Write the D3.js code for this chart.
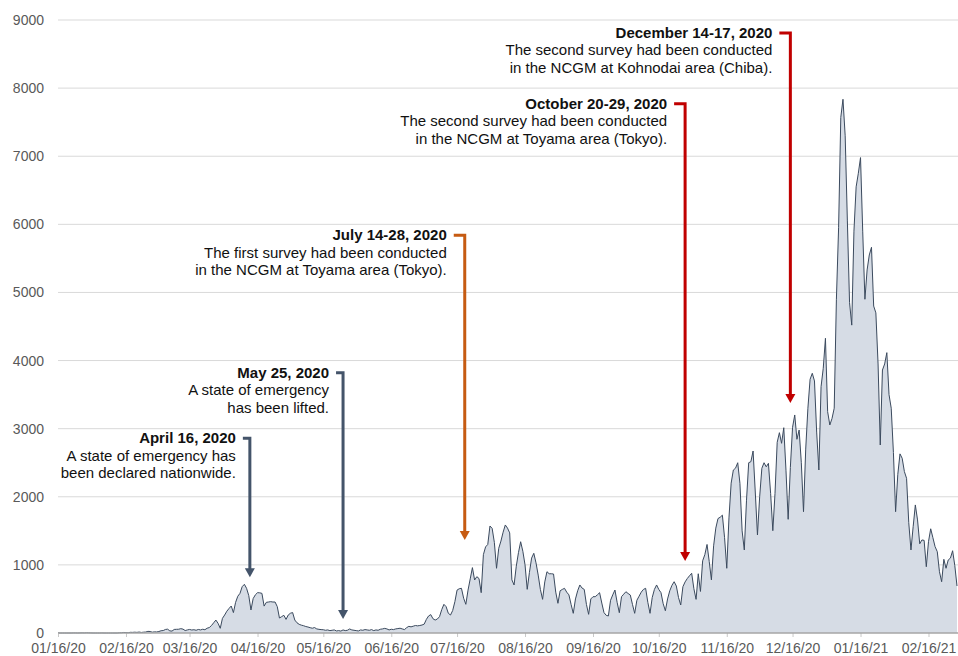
<!DOCTYPE html>
<html>
<head>
<meta charset="utf-8">
<script src="https://cdn.jsdelivr.net/npm/d3@7"></script>
<style>
  body { margin: 0; background: #fff; }
  svg { font-family: "Liberation Sans", Arial, sans-serif; display: block; }
</style>
</head>
<body>
<svg id="chart"></svg>
<script>
// daily new cases, one array per month, first value = 01/16/2020
let jan20 = [1,0,0,0,0,0,0,1,1,0,1,2,1,3,2,1]
let feb20 = [0,0,0,0,1,0,0,0,0,0,0,0,3,4,8,6,4,10,9,12,9,14,8,12,14,24,22,12,17]
let mar20 = [15,22,33,36,52,56,31,28,52,54,55,64,57,36,45,52,44,48,40,52,45,55,48,70,80,110,150,190,142,69,215]
let apr20 = [264,320,360,396,300,450,540,582,680,715,656,550,338,505,560,592,590,582,395,450,455,460,455,455,387,220,240,260,200,264]
let may20 = [290,300,190,150,127,115,107,95,88,78,70,80,60,54,50,48,40,45,35,40,45,30,35,28,45,35,40,59,45,40,35]
let jun20 = [30,45,40,50,45,40,50,35,45,40,55,60,68,60,45,55,50,60,65,70,60,50,78,98,90,100,110,105,110,117]
let jul20 = [130,200,250,270,210,190,205,240,343,421,387,290,264,330,460,630,650,656,510,421,630,795,960,778,827,800,592,1150,1264,1300,1571]
let aug20 = [1536,1330,950,1243,1350,1480,1586,1540,1470,780,705,980,1180,1340,1200,1000,641,890,1100,1170,1030,850,640,494,750,900,870,870,866,600,436]
let sep20 = [620,640,656,600,560,420,289,500,620,705,660,640,420,274,500,533,533,560,592,440,300,260,250,480,560,631,450,298,533,570]
let oct20 = [606,580,558,420,289,480,540,600,640,656,450,289,520,640,705,640,592,430,327,500,620,700,753,690,520,411,680,750,800,840,877]
let nov20 = [650,494,870,610,1060,1150,1300,1050,780,1280,1540,1680,1700,1730,1400,950,1690,2200,2393,2420,2500,2198,1500,1219,1950,2500,2515,2672,2070,1439]
let dec20 = [2000,2418,2500,2440,2491,2050,1502,2050,2800,2941,2785,3014,2390,1669,2430,3020,3201,2844,2980,2500,1781,2700,3300,3725,3813,3700,2950,2393,3616,3886,4327]
let jan21 = [3250,3054,3150,3300,4900,5950,7570,7836,7300,6050,4850,4520,5900,6550,6750,6980,5900,4900,5330,5550,5663,4800,4700,3950,2760,3861,3950,4116,3500,3300,2650]
let feb21 = [1781,2330,2630,2565,2370,2271,1620,1219,1560,1880,1660,1310,1366,1360,973,1341,1530,1400,1268,1194,900,753,1082,950,1072,1100,1208,990]
let mar21 = [690]

let yTicks = [0,1000,2000,3000,4000,5000,6000,7000,8000,9000]
let xTickDates = ["2020-01-16","2020-02-16","2020-03-16","2020-04-16","2020-05-16","2020-06-16",
    "2020-07-16","2020-08-16","2020-09-16","2020-10-16","2020-11-16","2020-12-16","2021-01-16","2021-02-16"]

// labelValue / tipValue are in case units (where the label sits, where the arrow stops)
let annotations = [
    {kind: "emergency", title: "April 16, 2020", lines: ["A state of emergency has", "been declared nationwide."],
        arrowDate: "2020-04-12T12:00", labelValue: 2860, tipValue: 820},
    {kind: "emergency", title: "May 25, 2020", lines: ["A state of emergency", "has been lifted."],
        arrowDate: "2020-05-25T00:00", labelValue: 3820, tipValue: 206},
    {kind: "first", title: "July 14-28, 2020", lines: ["The first survey had been conducted", "in the NCGM at Toyama area (Tokyo)."],
        arrowDate: "2020-07-19T12:00", labelValue: 5840, tipValue: 1365},
    {kind: "second", title: "October 20-29, 2020", lines: ["The second survey had been conducted", "in the NCGM at Toyama area (Tokyo)."],
        arrowDate: "2020-10-28T00:00", labelValue: 7770, tipValue: 1057},
    {kind: "second", title: "December 14-17, 2020", lines: ["The second survey had been conducted", "in the NCGM at Kohnodai area (Chiba)."],
        arrowDate: "2020-12-15T00:00", labelValue: 8810, tipValue: 3377}
]

let kindColor = d3.scaleOrdinal()
    .domain(["emergency", "first", "second"])
    .range(["#44546a", "#c65b12", "#c00000"])

let w = 958, h = 656
let margin = {top: 20, right: 1, bottom: 23, left: 58}

let svg = d3.select("#chart").attr("width", w).attr("height", h)

let startDate = new Date(2020, 0, 16)
let dailyCases = [].concat(jan20, feb20, mar20, apr20, may20, jun20, jul20, aug20, sep20, oct20, nov20, dec20, jan21, feb21, mar21)
let series = dailyCases.map((v, i) => ({date: d3.timeDay.offset(startDate, i), value: v}))

let x = d3.scaleTime()
    .domain(d3.extent(series, d => d.date))
    .range([margin.left, w - margin.right])

let y = d3.scaleLinear()
    .domain([0, 9000])
    .range([h - margin.bottom, margin.top])

// grid + y labels
svg.append("g").selectAll("line")
    .data(yTicks.filter(t => t > 0))
    .enter().append("line")
    .attr("x1", margin.left).attr("x2", w)
    .attr("y1", d => y(d)).attr("y2", d => y(d))
    .attr("stroke", "#d9d9d9")
    .attr("stroke-width", 1)

svg.append("g").selectAll("text")
    .data(yTicks)
    .enter().append("text")
    .attr("x", 44)
    .attr("y", d => y(d) + 5)
    .attr("text-anchor", "end")
    .attr("fill", "#595959")
    .style("font-size", "14px")
    .text(d => d)

// area
let area = d3.area()
    .x(d => x(d.date))
    .y0(y(0))
    .y1(d => y(d.value))

let line = d3.line()
    .x(d => x(d.date))
    .y(d => y(d.value))

svg.append("path")
    .datum(series)
    .attr("d", area)
    .attr("fill", "#d6dce5")

svg.append("path")
    .datum(series)
    .attr("d", line)
    .attr("fill", "none")
    .attr("stroke", "#3b4a5e")
    .attr("stroke-width", 1)

// x axis
let parseDay = d3.timeParse("%Y-%m-%d")
let xAxis = d3.axisBottom(x)
    .tickValues(xTickDates.map(parseDay))
    .tickFormat(d3.timeFormat("%m/%d/%y"))
    .tickSize(4)
    .tickPadding(6)

let gx = svg.append("g")
    .attr("transform", "translate(0," + y(0) + ")")
    .call(xAxis)
gx.select(".domain").remove()
gx.selectAll(".tick line").attr("stroke", "#c8c8c8")
gx.selectAll(".tick text")
    .attr("fill", "#595959")
    .style("font-size", "14px")
    .style("font-family", "'Liberation Sans', Arial, sans-serif")

svg.append("line")
    .attr("x1", margin.left).attr("x2", w)
    .attr("y1", y(0)).attr("y2", y(0))
    .attr("stroke", "#a6a6a6")
    .attr("stroke-width", 1.5)

// annotations
let ann = svg.append("g").selectAll("g")
    .data(annotations)
    .enter().append("g")

ann.each(function(d) {
    let g = d3.select(this)
    let ax = x(new Date(d.arrowDate))
    let ly = y(d.labelValue)
    let ty = y(d.tipValue)
    let c = kindColor(d.kind)
    let seg = d.kind == "emergency" ? 7 : 11
    let tx = ax - seg - 7

    g.append("path")
        .attr("d", "M" + (ax - seg) + "," + ly + "H" + ax + "V" + (ty - 8))
        .attr("fill", "none")
        .attr("stroke", c)
        .attr("stroke-width", 3)
        .attr("stroke-linejoin", "miter")

    g.append("path")
        .attr("d", "M" + (ax - 5) + "," + (ty - 9) + "L" + (ax + 5) + "," + (ty - 9) + "L" + ax + "," + ty + "Z")
        .attr("fill", c)

    let t = g.append("text")
        .attr("text-anchor", "end")
        .attr("fill", "#111")
        .style("font-size", "15px")

    t.append("tspan")
        .attr("x", tx)
        .attr("y", ly + 5)
        .style("font-weight", "bold")
        .text(d.title)

    d.lines.forEach((s, i) => {
        t.append("tspan")
            .attr("x", tx)
            .attr("y", ly + 5 + 17.5 * (i + 1))
            .text(s)
    })
})
</script>
</body>
</html>
